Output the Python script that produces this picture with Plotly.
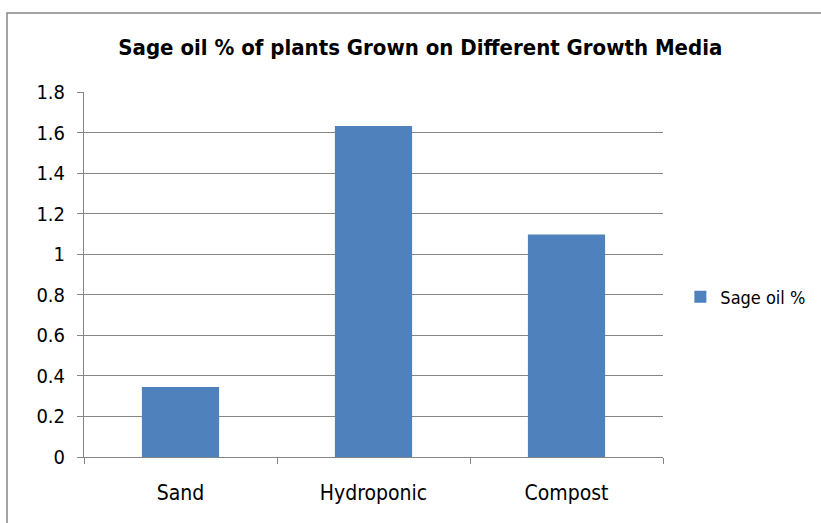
import plotly.graph_objects as go

categories = ["Sand", "Hydroponic", "Compost"]
sage_oil = [0.345, 1.632, 1.097]
series_name = "Sage oil %"
title_text = "<b>Sage oil % of plants Grown on Different Growth Media</b>"

FONT = "DejaVu Sans Condensed, Liberation Sans, Arial, sans-serif"

fig = go.Figure()
fig.add_trace(go.Bar(x=categories, y=sage_oil, name=series_name,
                     marker=dict(color="#4F81BD", line=dict(width=0)),
                     showlegend=True))

fig.update_layout(
    width=821, height=523, autosize=False,
    margin=dict(l=84, r=158, t=92, b=66, autoexpand=False),
    paper_bgcolor="white", plot_bgcolor="white",
    bargap=0.6,
    title=dict(text=title_text, x=0.512, xanchor="center", y=0.91, yanchor="middle",
               xref="container", font=dict(family=FONT, size=22, color="black")),
    font=dict(family=FONT, color="black"),
    showlegend=True,
    legend=dict(x=1.03, xanchor="left", y=0.438, yanchor="middle",
                font=dict(family=FONT, size=18, color="black"),
                bgcolor="rgba(0,0,0,0)", itemwidth=30),
    xaxis=dict(showline=True, linecolor="#868686", linewidth=1,
               ticks="outside", ticklen=6, tickcolor="#868686", tickson="boundaries",
               showgrid=False, tickfont=dict(family=FONT, size=21, color="black"),
               ticklabelstandoff=17, fixedrange=True),
    yaxis=dict(range=[0, 1.8], dtick=0.2, tick0=0, showline=True, linecolor="#868686",
               linewidth=1, ticks="outside", ticklen=6, tickcolor="#868686",
               showgrid=True, gridcolor="#868686", gridwidth=1, zeroline=False,
               tickfont=dict(family=FONT, size=20, color="black"), ticklabelstandoff=8,
               fixedrange=True),
    shapes=[dict(type="rect", xref="paper", yref="paper",
                 x0=(7 - 84) / 579, x1=(830 - 84) / 579,
                 y0=(457 - 530) / 365, y1=(457 - 13) / 365,
                 line=dict(color="#868686", width=1.5), fillcolor="rgba(0,0,0,0)", layer="below")],
)

fig.write_html("out.html")
